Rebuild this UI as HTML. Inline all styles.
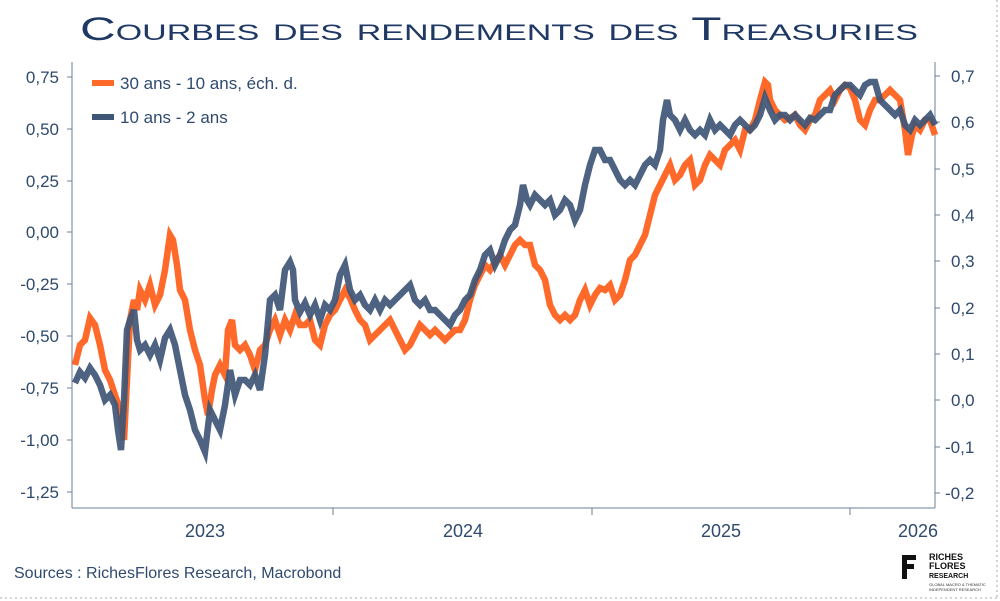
<!DOCTYPE html>
<html><head><meta charset="utf-8"><style>
body{margin:0;background:#fff;}
svg{display:block;font-family:"Liberation Sans",sans-serif;}
</style></head><body>
<svg width="1000" height="601" viewBox="0 0 1000 601">
<rect x="0" y="0" width="1000" height="601" fill="#fff"/>
<line x1="0" y1="598" x2="997" y2="598" stroke="#aaa" stroke-dasharray="2,3"/>
<line x1="997" y1="0" x2="997" y2="598" stroke="#aaa" stroke-dasharray="2,3"/>
<text x="80" y="40" textLength="838" lengthAdjust="spacingAndGlyphs" font-size="32" fill="#1f3864" style="font-variant:small-caps;font-family:'Liberation Sans',sans-serif">Courbes des rendements des Treasuries</text>
<g stroke="#6d7f99" stroke-width="1">
<line x1="72" y1="62" x2="72" y2="508"/>
<line x1="935" y1="62" x2="935" y2="508"/>
<line x1="72" y1="508" x2="935" y2="508"/>
<line x1="333" y1="508" x2="333" y2="515"/><line x1="592" y1="508" x2="592" y2="515"/><line x1="850" y1="508" x2="850" y2="515"/>
<line x1="67" y1="77" x2="72" y2="77"/><line x1="67" y1="129" x2="72" y2="129"/><line x1="67" y1="181" x2="72" y2="181"/><line x1="67" y1="232" x2="72" y2="232"/><line x1="67" y1="284" x2="72" y2="284"/><line x1="67" y1="336" x2="72" y2="336"/><line x1="67" y1="388" x2="72" y2="388"/><line x1="67" y1="440" x2="72" y2="440"/><line x1="67" y1="492" x2="72" y2="492"/>
<line x1="935" y1="76" x2="940" y2="76"/><line x1="935" y1="122" x2="940" y2="122"/><line x1="935" y1="169" x2="940" y2="169"/><line x1="935" y1="215" x2="940" y2="215"/><line x1="935" y1="261" x2="940" y2="261"/><line x1="935" y1="308" x2="940" y2="308"/><line x1="935" y1="354" x2="940" y2="354"/><line x1="935" y1="400" x2="940" y2="400"/><line x1="935" y1="447" x2="940" y2="447"/><line x1="935" y1="493" x2="940" y2="493"/>
</g>
<g font-size="17" fill="#2f4a6e" text-anchor="end">
<text x="59" y="83">0,75</text><text x="59" y="135">0,50</text><text x="59" y="187">0,25</text><text x="59" y="238">0,00</text><text x="59" y="290">-0,25</text><text x="59" y="342">-0,50</text><text x="59" y="394">-0,75</text><text x="59" y="446">-1,00</text><text x="59" y="498">-1,25</text>
</g>
<g font-size="17" fill="#2f4a6e">
<text x="951" y="82">0,7</text><text x="951" y="128">0,6</text><text x="951" y="175">0,5</text><text x="951" y="221">0,4</text><text x="951" y="267">0,3</text><text x="951" y="314">0,2</text><text x="951" y="360">0,1</text><text x="951" y="406">0,0</text><text x="945" y="453">-0,1</text><text x="945" y="499">-0,2</text>
</g>
<g font-size="18" fill="#2f4a6e" text-anchor="middle">
<text x="205" y="537">2023</text><text x="463" y="537">2024</text><text x="721" y="537">2025</text><text x="918" y="537">2026</text>
</g>
<polyline fill="none" stroke="#ff6a2b" stroke-width="6.5" stroke-linejoin="miter" points="75,365 80,345 85,340 90,318 95,325 100,345 105,370 110,380 115,395 120,410 124,440 127,380 130,320 134,300 137,310 140,290 145,300 150,285 155,305 160,295 165,270 170,235 173,240 177,265 180,290 185,300 190,330 195,350 200,365 205,400 208,415 212,390 215,375 220,365 225,375 228,330 232,320 235,345 240,350 245,345 250,355 255,370 260,350 265,345 270,330 275,320 280,335 285,320 290,330 295,315 300,325 305,325 310,320 315,340 320,345 325,325 330,315 335,310 340,300 345,290 350,298 355,310 360,320 365,325 370,340 375,335 380,330 385,325 390,320 395,330 400,340 405,350 410,345 415,335 420,325 425,330 430,335 435,330 440,335 445,340 450,335 455,330 460,330 465,320 470,300 475,285 480,275 485,265 490,270 495,262 500,255 505,265 510,255 515,245 520,240 525,245 530,245 535,265 540,270 545,280 550,305 555,315 560,320 565,315 570,320 575,315 580,300 585,290 590,305 595,295 600,288 605,290 610,285 615,300 620,295 625,280 630,260 635,255 640,245 645,235 650,215 655,195 660,185 665,175 670,165 675,180 680,175 685,165 690,160 695,185 700,180 705,165 710,155 715,160 720,165 725,150 730,145 735,140 740,150 745,130 750,130 755,120 760,100 765,82 768,85 770,100 775,110 780,115 785,120 790,118 795,115 800,125 805,130 810,120 815,115 820,100 825,95 830,90 835,100 840,90 845,85 850,88 855,100 860,120 865,125 870,110 875,100 880,100 885,95 890,90 895,95 900,100 905,130 908,155 912,135 915,125 920,130 925,120 930,120 935,135"/>
<polyline fill="none" stroke="#3f5676" stroke-opacity="0.92" stroke-width="6.5" stroke-linejoin="miter" points="75,383 80,372 85,378 90,368 95,375 100,385 105,400 110,395 115,405 118,430 121,450 124,400 127,330 130,320 134,310 137,340 140,350 145,345 150,355 155,345 160,360 165,338 170,330 175,345 180,370 185,395 190,410 195,430 200,440 205,452 210,410 215,420 220,430 225,405 230,370 235,395 240,380 245,380 250,385 255,375 260,390 265,355 270,300 275,295 280,310 285,270 290,262 293,270 295,300 300,312 305,303 310,315 315,305 320,320 325,305 330,310 335,300 340,275 345,265 350,290 355,300 360,295 365,305 370,310 375,300 380,310 385,300 390,305 395,300 400,295 405,290 410,285 415,300 420,305 425,300 430,310 435,310 440,315 445,320 450,325 455,315 460,310 465,300 470,295 475,280 480,270 485,255 490,250 495,265 500,255 505,240 510,230 515,225 520,205 523,185 527,200 530,205 535,195 540,200 545,205 550,200 555,215 560,210 565,200 570,205 575,220 580,210 585,185 590,165 595,150 600,150 605,160 610,160 615,170 620,180 625,185 630,180 635,185 640,175 645,165 650,160 655,165 660,150 663,120 667,100 670,115 675,120 680,130 685,120 690,130 695,135 700,130 705,135 710,120 715,130 720,125 725,130 730,135 735,125 740,120 745,125 750,130 755,125 760,115 765,98 770,110 775,120 780,115 785,115 790,120 795,115 800,120 805,125 810,118 815,120 820,115 825,110 830,110 835,95 840,90 845,85 850,85 855,90 860,95 865,85 870,82 875,82 880,100 885,105 890,110 895,115 900,110 905,125 910,130 915,120 920,125 925,120 930,115 935,125"/>
<line x1="92" y1="83" x2="114" y2="83" stroke="#ff6a2b" stroke-width="6"/>
<line x1="92" y1="117" x2="114" y2="117" stroke="#3f5676" stroke-width="6"/>
<text x="120" y="89" font-size="17" fill="#2f4a6e">30 ans - 10 ans, éch. d.</text>
<text x="120" y="123" font-size="17" fill="#2f4a6e">10 ans - 2 ans</text>
<text x="14" y="578" font-size="16" fill="#2f4a6e">Sources : RichesFlores Research, Macrobond</text>
<g>
<path d="M902,555 h14 v5 h-9 v4 h7 v5 h-7 v10 h-5z" fill="#111"/>
<text x="929" y="560" font-size="9" font-weight="bold" fill="#111">RICHES</text>
<text x="929" y="569" font-size="9" font-weight="bold" fill="#111">FLORES</text>
<text x="929" y="578" font-size="7" font-weight="bold" fill="#111">RESEARCH</text>
<text x="929" y="586" font-size="4" fill="#333">GLOBAL MACRO &amp; THEMATIC</text>
<text x="929" y="591" font-size="4" fill="#333">INDEPENDENT RESEARCH</text>
</g>
</svg>
</body></html>
